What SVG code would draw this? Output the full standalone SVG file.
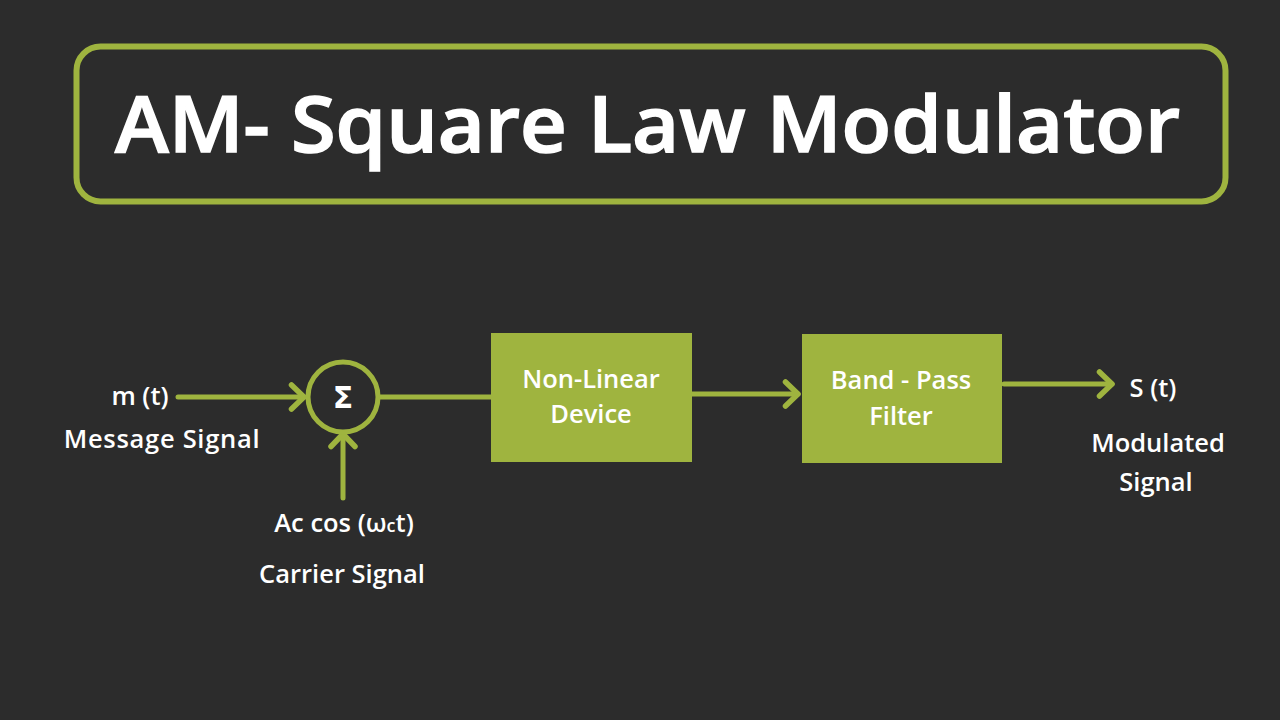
<svg xmlns="http://www.w3.org/2000/svg" width="1280" height="720" viewBox="0 0 1280 720">
<defs>
<style>
.t{font-family:"Open Sans","Liberation Sans",sans-serif;fill:#ffffff;font-weight:600}
.lbl{font-size:25.5px;text-anchor:middle}
.ln{stroke:#9fb43f;stroke-width:5;fill:none;stroke-linecap:round}
.box{fill:#9fb43f}
</style>
<marker id="ah" markerWidth="8" markerHeight="10" refX="6.5" refY="5" orient="auto" markerUnits="userSpaceOnUse" viewBox="0 0 8 10" overflow="visible">
<polyline points="-6,-7 6.5,5 -6,17" fill="none" stroke="#9fb43f" stroke-width="5.5" stroke-linecap="round" stroke-linejoin="round"/>
</marker>
</defs>
<rect width="1280" height="720" fill="#2c2c2c"/>
<g id="title">
<rect x="76.5" y="46.5" width="1149" height="155" rx="24" fill="none" stroke="#9fb43f" stroke-width="6"/>
<text class="t" x="115" y="152" font-size="77" font-weight="700" stroke="#ffffff" stroke-width="1.5" textLength="1065" lengthAdjust="spacingAndGlyphs">AM- Square Law Modulator</text>
</g>
<g id="connectors">
<line class="ln" x1="178" y1="397" x2="304" y2="397" marker-end="url(#ah)"/>
<line class="ln" x1="343" y1="498" x2="343" y2="434" marker-end="url(#ah)"/>
<line class="ln" x1="379" y1="397" x2="491" y2="397"/>
<line class="ln" x1="692" y1="394" x2="798" y2="394" marker-end="url(#ah)"/>
<line class="ln" x1="1004" y1="384" x2="1112" y2="384" marker-end="url(#ah)"/>
</g>
<g id="summer">
<circle cx="343" cy="397" r="35" fill="none" stroke="#9fb43f" stroke-width="5"/>
<text x="343" y="408" text-anchor="middle" fill="#ffffff" font-family="'DejaVu Sans',sans-serif" font-weight="700" font-size="30">Σ</text>
</g>
<g id="message">
<text class="t lbl" x="140" y="405">m (t)</text>
<text class="t lbl" x="162" y="448" letter-spacing="0.7">Message Signal</text>
</g>
<g id="carrier">
<text class="t lbl" x="344" y="532">Ac cos (ω<tspan font-size="18">c</tspan>t)</text>
<text class="t lbl" x="342" y="583">Carrier Signal</text>
</g>
<g id="nonlinear">
<rect class="box" x="491" y="333" width="201" height="129"/>
<text class="t lbl" x="591" y="388">Non-Linear</text>
<text class="t lbl" x="591" y="423">Device</text>
</g>
<g id="bpf">
<rect class="box" x="802" y="334" width="200" height="129"/>
<text class="t lbl" x="901" y="389">Band - Pass</text>
<text class="t lbl" x="901" y="425">Filter</text>
</g>
<g id="output">
<text class="t lbl" x="1153" y="397">S (t)</text>
<text class="t lbl" x="1158" y="452">Modulated</text>
<text class="t lbl" x="1156" y="491">Signal</text>
</g>
</svg>
